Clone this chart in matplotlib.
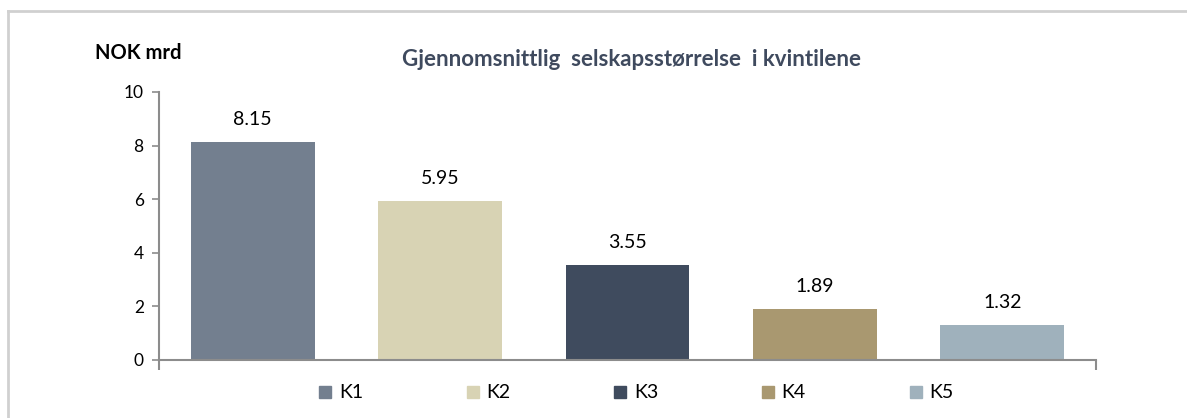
import matplotlib.pyplot as plt
from matplotlib.lines import Line2D

plt.rcParams['font.family'] = ['Lato', 'DejaVu Sans']

# data
categories = ['K1', 'K2', 'K3', 'K4', 'K5']
values = [8.15, 5.95, 3.55, 1.89, 1.32]
colors = ['#737F8F', '#D8D3B4', '#3F4B5E', '#A99870', '#9FB1BC']

fig = plt.figure(figsize=(11.87, 4.18), dpi=100)
ax = fig.add_axes([159 / 1187, 58 / 418, 937 / 1187, 268 / 418])

x = range(len(categories))
bars = ax.bar(x, values, width=0.66, color=colors, zorder=2)
for xi, v in zip(x, values):
    ax.annotate(f"{v:.2f}", (xi, v), xytext=(0, 10), textcoords='offset points',
                ha='center', va='bottom', fontsize=14, color='black')

ax.set_xlim(-0.5, len(categories) - 0.5)
ax.set_ylim(0, 10)
ax.set_yticks([0, 2, 4, 6, 8, 10])
ax.set_xticks([-0.5, len(categories) - 0.5])
ax.set_xticklabels(['', ''])
for s in ['top', 'right']:
    ax.spines[s].set_visible(False)
for s in ['left', 'bottom']:
    ax.spines[s].set_color('#8C8C8C')
    ax.spines[s].set_linewidth(1.5)
ax.tick_params(axis='y', direction='out', length=5, width=1.2, color='#8C8C8C',
               labelsize=12.5, pad=6)
ax.tick_params(axis='x', direction='out', length=7, width=1.5, color='#8C8C8C')

fig.text(95 / 1187, 1 - 53 / 418, 'NOK mrd', fontsize=14.5, fontweight='bold',
         ha='left', va='center')
fig.text(631 / 1187, 1 - 60 / 418, 'Gjennomsnittlig  selskapsstørrelse  i kvintilene',
         fontsize=16, fontweight='bold', color='#3F4A5E', ha='center', va='center')

handles = [Line2D([], [], marker='s', linestyle='none', markersize=9,
                  markerfacecolor=c, markeredgecolor=c) for c in colors]
fig.legend(handles, categories, loc='center', bbox_to_anchor=(636 / 1187, 1 - 393 / 418),
           ncol=5, frameon=False, fontsize=14, handlelength=0.7, handletextpad=0.35,
           columnspacing=5.3)

# outer frame (left and top edges visible)
fig.add_artist(Line2D([8 / 1187, 8 / 1187], [0, 1 - 11 / 418], color='#D0D0D0', lw=2,
                      transform=fig.transFigure))
fig.add_artist(Line2D([8 / 1187, 1], [1 - 11 / 418, 1 - 11 / 418], color='#D0D0D0', lw=2,
                      transform=fig.transFigure))

fig.savefig('out.png', dpi=100)
